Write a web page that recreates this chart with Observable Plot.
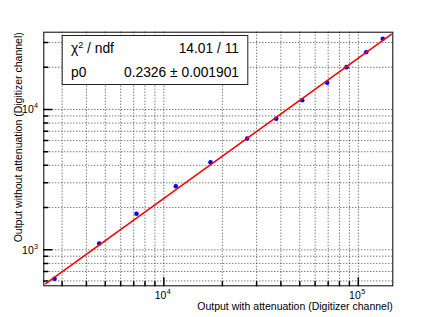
<!DOCTYPE html>
<html><head><meta charset="utf-8">
<script src="https://cdn.jsdelivr.net/npm/d3@7"></script>
<script src="https://cdn.jsdelivr.net/npm/@observablehq/plot@0.6"></script>
<style>
html,body{margin:0;padding:0;background:#fff;}
#chart{width:436px;height:317px;position:relative;}
svg{font-family:"Liberation Sans",Arial,Helvetica,sans-serif;}
</style>
</head><body><div id="chart"></div>
<script>
// ---- data ----
const withAtt    = [2742, 4655, 7238, 11527, 17385, 26840, 37840, 51470, 69200, 86990, 109800, 133650];
const withoutAtt = [621, 1109, 1805, 2840, 4211, 6214, 8585, 11651, 15500, 20030, 25613, 31910];
const p0 = 0.2326;                 // fit parameter (y = p0 * x)
const fitRange = [2470, 147600];
const xDomain = [2415, 150450];
const yDomain = [553.8, 35560];
const xMajor = [1e4, 1e5];
const yMajor = [1e3, 1e4];
const xTitle = "Output with attenuation (Digitizer channel)";
const yTitle = "Output without attenuation (Digitizer channel)";
const statLabels = ["χ² / ndf", "p0"];
const statValues = ["14.01 / 11", "0.2326 ± 0.001901"];

const points = withAtt.map((x, i) => ({x, y: withoutAtt[i]}));
const fitLine = fitRange.map(x => ({x, y: p0 * x}));
const xGrid = d3.scaleLog().domain(xDomain).ticks();
const yGrid = d3.scaleLog().domain(yDomain).ticks();
const xMinor = xGrid.filter(d => !xMajor.includes(d));
const yMinor = yGrid.filter(d => !yMajor.includes(d));
const expOf = d => String(Math.round(Math.log10(d)));

const tickShape = {draw(context, l) { context.moveTo(0, 0); context.lineTo(0, -l); }};
const gridStyle = {stroke: "#222", strokeWidth: 1, strokeDasharray: "1,2", strokeOpacity: 0.85};
const FONT = 10.5;

const plot = Plot.plot({
  width: 436, height: 317,
  marginLeft: 43.3, marginRight: 43.7, marginTop: 31.7, marginBottom: 31.7,
  style: {background: "#fff", fontFamily: "Liberation Sans, Arial, sans-serif"},
  x: {type: "log", domain: xDomain, axis: null},
  y: {type: "log", domain: yDomain, axis: null},
  marks: [
    Plot.ruleX(xGrid, {x: d => d, ...gridStyle}),
    Plot.ruleY(yGrid, {y: d => d, ...gridStyle}),
    // inward ticks
    Plot.vector(xMinor, {x: d => d, frameAnchor: "bottom", length: 4, rotate: 0, anchor: "start", shape: tickShape, stroke: "#000"}),
    Plot.vector(xMajor, {x: d => d, frameAnchor: "bottom", length: 8, rotate: 0, anchor: "start", shape: tickShape, stroke: "#000"}),
    Plot.vector(yMinor, {y: d => d, frameAnchor: "left", length: 4, rotate: 90, anchor: "start", shape: tickShape, stroke: "#000"}),
    Plot.vector(yMajor, {y: d => d, frameAnchor: "left", length: 8, rotate: 90, anchor: "start", shape: tickShape, stroke: "#000"}),
    // tick labels 10^n
    Plot.text(xMajor, {x: d => d, frameAnchor: "bottom", text: () => "10", textAnchor: "end", lineAnchor: "bottom", dx: 2.5, dy: 13.3, fontSize: FONT, fill: "#000"}),
    Plot.text(xMajor, {x: d => d, frameAnchor: "bottom", text: expOf, textAnchor: "start", lineAnchor: "bottom", dx: 3, dy: 8.5, fontSize: 7.2, fill: "#000"}),
    Plot.text(yMajor, {y: d => d, frameAnchor: "left", text: () => "10", textAnchor: "end", lineAnchor: "bottom", dx: -10, dy: 3.8, fontSize: FONT, fill: "#000"}),
    Plot.text(yMajor, {y: d => d, frameAnchor: "left", text: expOf, textAnchor: "start", lineAnchor: "bottom", dx: -9.8, dy: -1, fontSize: 7.2, fill: "#000"}),
    // axis titles
    Plot.text([xTitle], {text: d => d, frameAnchor: "bottom-right", textAnchor: "end", lineAnchor: "bottom", dy: 24.3, fontSize: FONT, fill: "#000"}),
    Plot.text([yTitle], {text: d => d, frameAnchor: "top-left", textAnchor: "end", lineAnchor: "bottom", rotate: -90, dx: -22, dy: 0, fontSize: FONT, fill: "#000"}),
    // data
    Plot.dot(points, {x: "x", y: "y", r: 2.3, fill: "#0000ff", stroke: "none"}),
    Plot.line(fitLine, {x: "x", y: "y", stroke: "#ff0000", strokeWidth: 1.6, clip: true}),
    Plot.frame({stroke: "#000", strokeWidth: 1})
  ]
});
document.getElementById("chart").appendChild(plot);

// ---- statistics box (annotation) ----
const svg = d3.select(plot);
const box = {x: 61.7, y: 35, w: 185.6, h: 49};
const g = svg.append("g").attr("font-size", 13.8).attr("fill", "#000").attr("text-anchor", "start");
g.append("rect").attr("x", box.x + 0.5).attr("y", box.y + 0.5).attr("width", box.w).attr("height", box.h)
  .attr("fill", "#fff").attr("stroke", "#222").attr("stroke-width", 1);
const baselines = [53.3, 77.3];
statLabels.forEach((lab, i) => {
  const t = g.append("text").attr("x", 71).attr("y", baselines[i]).attr("text-anchor", "start");
  const parts = lab.split("²");
  let lift = 0;
  parts.forEach((p, j) => {
    const s = t.append("tspan").text(p);
    if (lift) { s.attr("dy", lift); lift = 0; }
    if (j < parts.length - 1) { t.append("tspan").attr("font-size", 9).attr("dy", -5.5).text("2"); lift = 5.5; }
  });
  g.append("text").attr("x", 239).attr("y", baselines[i]).attr("text-anchor", "end").text(statValues[i]);
});
</script>
</body></html>
